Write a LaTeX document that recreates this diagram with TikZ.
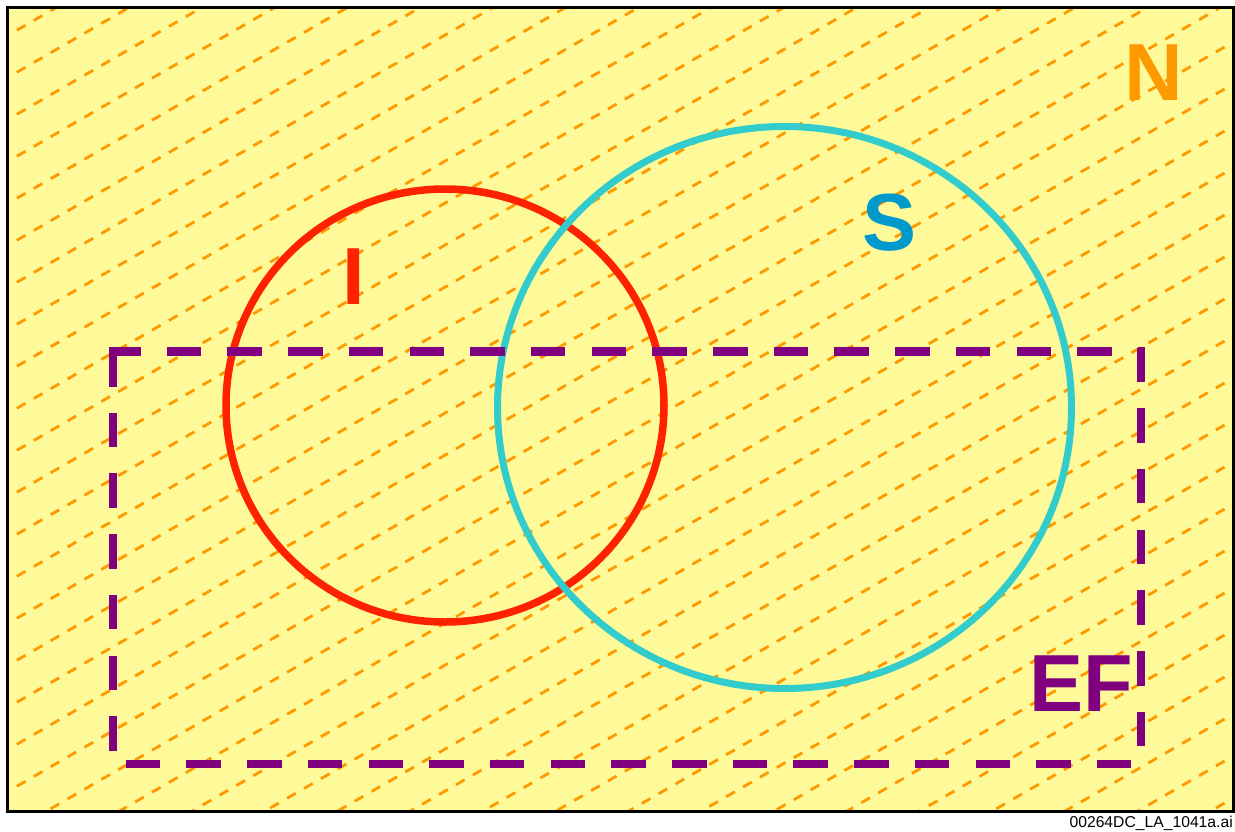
\documentclass[tikz,border=0pt]{standalone}
\usepackage{fontspec}
\setmainfont{Liberation Sans}
\definecolor{bgyellow}{RGB}{255,250,153}
\definecolor{hatchorange}{RGB}{255,153,0}
\definecolor{ringred}{RGB}{255,34,0}
\definecolor{ringcyan}{RGB}{51,204,204}
\definecolor{sblue}{RGB}{0,153,204}
\definecolor{efpurple}{RGB}{128,0,128}
\begin{document}
\begin{tikzpicture}[x=1pt,y=-1pt,
  hatch/.style={hatchorange, line width=2.8pt, dash pattern=on 10pt off 9.5pt},
  efline/.style={efpurple, line width=8.5pt, dash pattern=on 34.5pt off 26.2pt},
  bigletter/.style={inner sep=0pt, anchor=base, font=\fontsize{81}{90}\selectfont\bfseries}]
\useasboundingbox (0,0) rectangle (1235,831);
\fill[bgyellow] (7.7,7.7) rectangle (1233.3,811.7);
\begin{scope}
  \clip (7.7,7.7) rectangle (1233.3,811.7);
  \foreach \k in {-3,...,32}{
    \pgfmathsetmacro\cc{166+42*\k}
    \draw[hatch] (0,\cc) -- (1240,\cc-715.9);
  }
\end{scope}
\draw[ringred, line width=7.5pt] (445,405.5) ellipse [x radius=219pt, y radius=216.5pt];
\draw[ringcyan, line width=7pt] (784.5,407.5) ellipse [x radius=287pt, y radius=281pt];
\draw[efline, dash phase=2.5pt] (108.5,351.7) -- (1145.3,351.7);
\draw[efline] (1141,347.5) -- (1141,768.5);
\draw[efline] (125.7,764.2) -- (1145,764.2);
\draw[efline] (112.8,352) -- (112.8,768);
\draw[black, line width=3.5pt] (7.7,7.7) rectangle (1233.3,811.7);
\node[bigletter, hatchorange] (labN) at (1153.3,100) {N};
\node[bigletter, sblue] (labS) at (889.3,250.7) {S};
\node[bigletter, ringred] (labI) at (354.2,304) {I};
\node[bigletter, efpurple] (labEF) at (1080.8,711.7) {EF};
\node[inner sep=0pt, anchor=base east, font=\fontsize{15.7}{18}\selectfont] (caption) at (1233,827.3) {00264DC\_LA\_1041a.ai};
\end{tikzpicture}
\end{document}
